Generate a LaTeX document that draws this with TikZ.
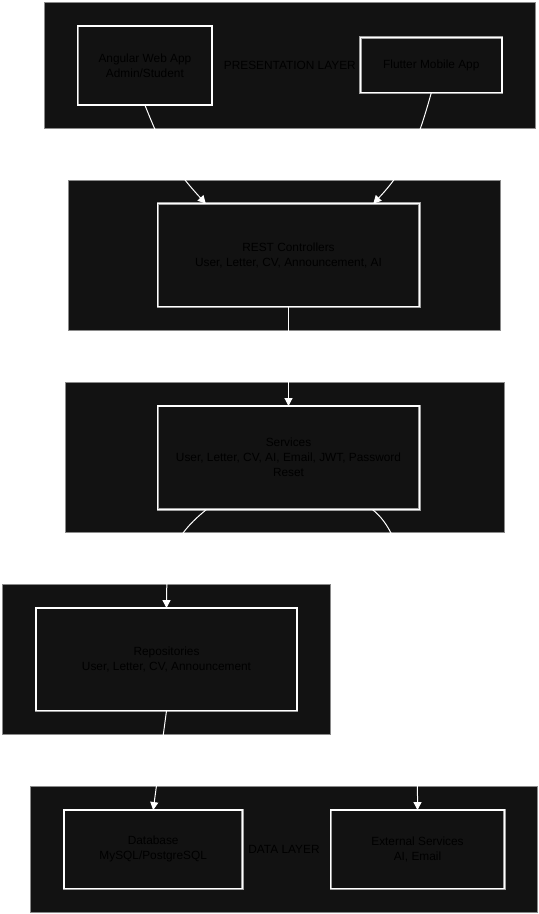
\documentclass[tikz,border=0pt]{standalone}
\usepackage{fontspec}
\setmainfont{Liberation Sans}
\usetikzlibrary{arrows.meta,calc}
\definecolor{layerfill}{HTML}{121212}
\definecolor{layerline}{HTML}{8A8A8A}
\definecolor{boxline}{HTML}{A0A0A0}

\begin{document}
\begin{tikzpicture}[
  x=0.75pt,y=-0.75pt,
  every node/.style={font=\fontsize{8.9}{11.25}\selectfont,text=black},
  layer/.style={draw=layerline,fill=layerfill,line width=0.75pt,inner sep=0pt,outer sep=0pt,align=center},
  comp/.style={draw=boxline,double=white,double distance=0.9pt,line width=0.45pt,fill=layerfill,align=center,inner sep=0pt,outer sep=0pt},
  link/.style={-{Triangle[length=6pt,width=6pt]},draw=white,line width=0.75pt}
]
\path[use as bounding box,fill=white] (0,0) rectangle (539,914);

% layers
\node[layer,minimum width=368.7pt,minimum height=94.1pt] (presentation) at (289.8,65.3) {PRESENTATION LAYER};
\node[layer,minimum width=323.3pt,minimum height=112.5pt] (controllers) at (284.5,255.3) {};
\node[layer,minimum width=329pt,minimum height=112.5pt] (business) at (284.7,457.3) {};
\node[layer,minimum width=245.7pt,minimum height=112.3pt] (persistence) at (166.5,659.2) {};
\node[layer,minimum width=380.5pt,minimum height=94.5pt] (datalayer) at (284,849.3) {DATA LAYER};

% components
\node[comp,minimum width=100.7pt,minimum height=59.3pt] (angular) at (144.9,65.5) {Angular Web App\\Admin/Student};
\node[comp,minimum width=106pt,minimum height=41.3pt] (flutter) at (431.3,65.2) {Flutter Mobile App};
\node[comp,minimum width=196.2pt,minimum height=77.3pt] (rest) at (288.5,255.2) {REST Controllers\\User, Letter, CV, Announcement, AI};
\node[comp,minimum width=196.2pt,minimum height=77.5pt] (services) at (288.5,457.7) {Services\\User, Letter, CV, AI, Email, JWT, Password\\Reset};
\node[comp,minimum width=195.8pt,minimum height=77pt] (repos) at (166.5,659.4) {Repositories\\User, Letter, CV, Announcement};
\node[comp,minimum width=133.7pt,minimum height=59pt] (database) at (153.2,849.4) {Database\\MySQL/PostgreSQL};
\node[comp,minimum width=130.2pt,minimum height=59pt] (external) at (417.5,849.4) {External Services\\AI, Email};

% connectors
\draw[link] (angular.south) .. controls (160,143) and (170,165) .. ($(rest.north west)!0.184!(rest.north east)$);
\draw[link] (flutter.south) .. controls (420,133) and (410,165) .. ($(rest.north west)!0.824!(rest.north east)$);
\draw[link] (rest.south) -- (services.north);
\draw[link] ($(services.south west)!0.187!(services.south east)$) .. controls (175,535) and (166.5,555) .. (repos.north);
\draw[link] ($(services.south west)!0.82!(services.south east)$) .. controls (405,535) and (417.5,600) .. (external.north);
\draw[link] (repos.south) -- (database.north);
\end{tikzpicture}
\end{document}
